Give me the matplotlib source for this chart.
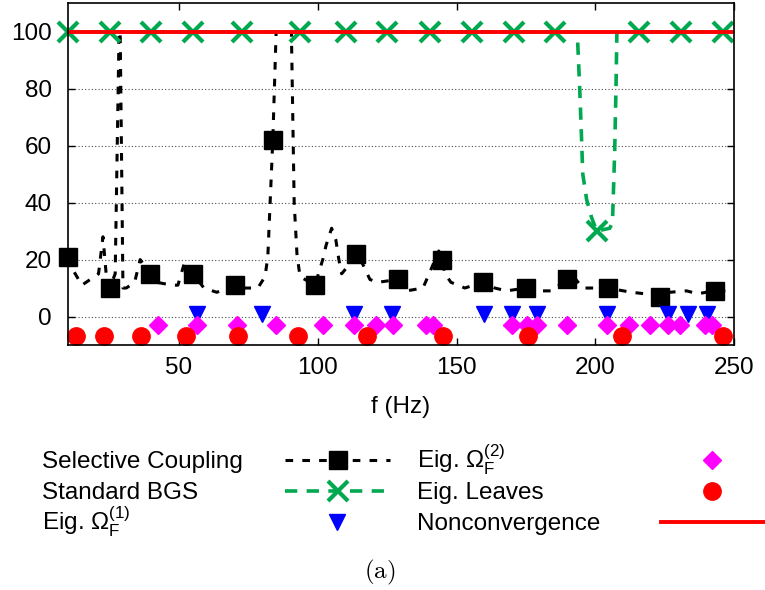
import matplotlib
matplotlib.use("Agg")
import matplotlib.pyplot as plt
from matplotlib.lines import Line2D

plt.rcParams['font.family'] = ['Liberation Sans', 'DejaVu Sans']
plt.rcParams['mathtext.fontset'] = 'custom'
plt.rcParams['mathtext.rm'] = 'Liberation Sans'
plt.rcParams['mathtext.it'] = 'Liberation Sans:italic'

# Selective Coupling curve (dense) and its square markers
sc_f = [10, 12, 15, 18, 21, 22.6, 24, 25, 27, 28.4, 28.8, 29.8, 31, 34, 36, 39.5,
        42, 47.5, 49.6, 52, 55, 59, 63.6, 70, 73, 78.4, 81, 82, 83.8, 85, 90.5,
        91.5, 92.5, 93.6, 99, 101.8, 103, 105, 106.5, 107.6, 108.6, 112, 113.7,
        115.9, 118.8, 121.6, 128.8, 132, 137.9, 139.7, 143.6, 144.7, 145.8, 148,
        153, 159.5, 163.8, 168, 175, 178, 184.3, 189.7, 193, 195.5, 204.5, 213,
        217.8, 223.2, 226.8, 232.9, 236.9, 243, 250]
sc_val = [21, 16, 11, 13, 15, 28, 12, 10, 15, 100, 100, 10, 10, 12, 20, 15,
          12, 11, 11, 19, 15, 10, 8.5, 11, 10, 10, 14, 21, 62, 100, 100,
          40, 22, 14, 11, 20, 25, 31, 27, 20, 15, 19, 22,
          19, 13, 12, 13, 9, 10, 14, 23, 20, 15, 12,
          10, 12, 10, 9, 10, 9, 9, 13, 13, 10, 10, 8.5,
          8, 7, 8.5, 9, 8, 9, 9]
sc_mark_f = [10, 25, 39.5, 55, 70, 83.8, 99, 113.7, 128.8, 144.7, 159.5, 175,
             189.7, 204.5, 223.2, 243]
sc_mark_val = [21, 10, 15, 15, 11, 62, 11, 22, 13, 20, 12, 10, 13, 10, 7, 9]

# Standard BGS curve and cross markers
bgs_f = [10, 193.5, 194.4, 195, 195.5, 196.9, 198.6, 200.5, 205.2, 206.2, 207,
         207.5, 207.8, 250]
bgs_val = [100, 100, 80, 64, 50, 41, 35, 30, 31, 33, 58, 82, 100, 100]
bgs_mark_f = [10, 25, 40, 55, 72.6, 93.5, 110, 125, 140.6, 155.7, 170.8, 185.5,
              200.5, 215.8, 230.9, 246]
bgs_mark_val = [100, 100, 100, 100, 100, 100, 100, 100, 100, 100, 100, 100,
                30, 100, 100, 100]

# Eigenfrequencies
eig1_f = [56.4, 79.9, 113.1, 126.6, 159.9, 169.9, 178.9, 204.1, 226.2, 233.3, 240.2]
eig1_val = [1] * len(eig1_f)
eig2_f = [42.5, 56.4, 70.8, 85.0, 102.0, 113.1, 121.0, 127.2, 139.0, 141.6, 169.9,
          175.3, 178.9, 189.9, 204.1, 212.3, 219.7, 226.3, 230.5, 239.5, 242.0]
eig2_val = [-3] * len(eig2_f)
leaves_f = [12.9, 23.1, 36.2, 52.4, 71.2, 93.0, 117.6, 145.2, 175.9, 209.5, 245.9]
leaves_val = [-7] * len(leaves_f)

noconv_f = [10, 250]
noconv_val = [100, 100]

labels = ['Selective Coupling', 'Standard BGS', r'Eig. $\mathrm{\Omega}_{\mathrm{F}}^{(1)}$',
          r'Eig. $\mathrm{\Omega}_{\mathrm{F}}^{(2)}$', 'Eig. Leaves', 'Nonconvergence']

green = '#00a84f'
red = '#ff0000'
sc_style = dict(color='k', lw=2.2, ls=(0, (2.5, 3)))
bgs_style = dict(color=green, lw=2.6, ls=(0, (3.4, 2.6)))
sq_style = dict(marker='s', ms=13, color='k')
x_style = dict(marker='x', ms=14, mew=3, color=green)
tri_style = dict(marker='v', ms=11, color='#0000ff')
dia_style = dict(marker='D', ms=9.5, color='#ff00ff')
dot_style = dict(marker='o', ms=12.5, color=red)
red_style = dict(color=red, lw=2.8)

fig = plt.figure(figsize=(7.65, 5.9), dpi=100)
ax = fig.add_axes([0.0889, 0.4153, 0.8706, 0.5791])

ax.plot(sc_f, sc_val, **sc_style)
ax.plot(sc_mark_f, sc_mark_val, ls='none', clip_on=False, **sq_style)
ax.plot(bgs_f, bgs_val, **bgs_style)
ax.plot(bgs_mark_f, bgs_mark_val, ls='none', clip_on=False, **x_style)
ax.plot(eig1_f, eig1_val, ls='none', clip_on=False, **tri_style)
ax.plot(eig2_f, eig2_val, ls='none', clip_on=False, **dia_style)
ax.plot(leaves_f, leaves_val, ls='none', clip_on=False, **dot_style)
ax.plot(noconv_f, noconv_val, **red_style)

ax.set_xlim(10, 250)
ax.set_ylim(-10, 110)
ax.set_xticks([50, 100, 150, 200, 250])
ax.set_yticks([0, 20, 40, 60, 80, 100])
ax.tick_params(direction='in', length=5, width=1, top=True, right=True,
               labelsize=17.5)
ax.tick_params(axis='x', pad=9)
ax.tick_params(axis='y', pad=11.5)
ax.grid(axis='y', color='0.3', ls=(0, (1, 2)), lw=0.8)
ax.set_axisbelow(True)
for s in ax.spines.values():
    s.set_linewidth(1.2)
ax.set_xlabel('f (Hz)', fontsize=17.5, labelpad=12)

# key below the plot, gnuplot style: text first, sample on the right
W, H = 765.0, 590.0
row_y = [460, 491, 522]
col_text_x = [42, 417]
keys = [
    ('line+marker', sc_style, sq_style, 285, 390),
    ('line+marker', bgs_style, x_style, 285, 390),
    ('marker', None, tri_style, 337, 337),
    ('marker', None, dia_style, 712, 712),
    ('marker', None, dot_style, 712, 712),
    ('line', red_style, None, 661, 765),
]
for i, (lab, (kind, lst, mst, x0, x1)) in enumerate(zip(labels, keys)):
    col, row = divmod(i, 3)
    yc = 1 - row_y[row] / H
    fig.text(col_text_x[col] / W, 1 - (row_y[row] + 8) / H, lab, fontsize=17.5,
             ha='left', va='baseline')
    if lst is not None:
        fig.add_artist(Line2D([x0 / W, x1 / W], [yc, yc], transform=fig.transFigure,
                              **lst))
    if mst is not None:
        xm = (x0 + x1) / 2 / W
        fig.add_artist(Line2D([xm], [yc], ls='none', transform=fig.transFigure, **mst))

fig.text(0.497, 0.029, r'$\mathrm{(a)}$', ha='center', va='center', fontsize=18,
         math_fontfamily='cm')

fig.savefig('out.png', dpi=100)
